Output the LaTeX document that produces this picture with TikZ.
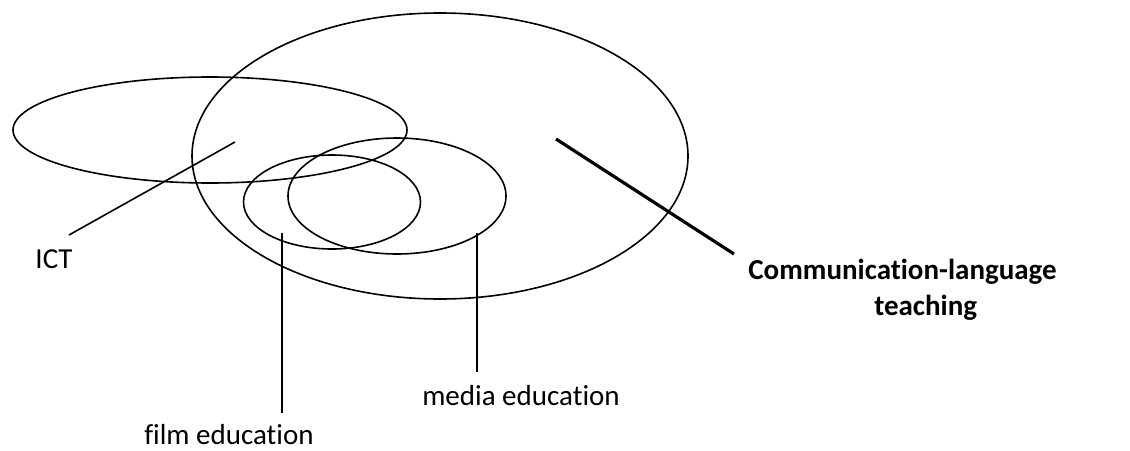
\documentclass[tikz,border=0pt]{standalone}
\usepackage{fontspec}
\setmainfont{Carlito}[Ligatures=NoCommon]
\usetikzlibrary{shapes.geometric}
\begin{document}
\begin{tikzpicture}[x=0.5pt,y=-0.5pt,
  every node/.style={font=\fontsize{14.5}{18}\selectfont},
  venn/.style={ellipse,draw,line width=0.8pt,inner sep=0pt},
  leader/.style={line width=0.8pt},
  txt/.style={inner sep=0pt,anchor=base}]
\useasboundingbox (0,0) rectangle (1130,450);
% sets
\node[venn,minimum width=248pt,minimum height=143pt] (clt) at (440,156) {};
\node[venn,minimum width=197pt,minimum height=53pt] (ict) at (210,130) {};
\node[venn,minimum width=88.5pt,minimum height=47pt] (film) at (332,202) {};
\node[venn,minimum width=109pt,minimum height=58pt] (media) at (397,196) {};
% labels
\node[txt] (ictlab) at (54,268) {ICT};
\node[txt] (filmlab) at (229,444) {film education};
\node[txt] (medialab) at (521,405) {media education};
\node[txt,anchor=base west,align=center,font=\fontsize{14.5}{18}\selectfont\bfseries]
  (cltlab) at (748,315) {Communication-language\hspace*{1.6em}\\teaching};
% leaders
\coordinate (ictpin) at (235,142);   \coordinate (ictend) at (69,235);
\coordinate (filmpin) at (282,233);  \coordinate (filmend) at (282,413);
\coordinate (mediapin) at (477,233); \coordinate (mediaend) at (477,372);
\coordinate (cltpin) at (556,139);   \coordinate (cltend) at (734,254);
\draw[leader] (ictpin) -- (ictend);
\draw[leader] (filmpin) -- (filmend);
\draw[leader] (mediapin) -- (mediaend);
\draw[leader,line width=1.6pt] (cltpin) -- (cltend);
\end{tikzpicture}
\end{document}
